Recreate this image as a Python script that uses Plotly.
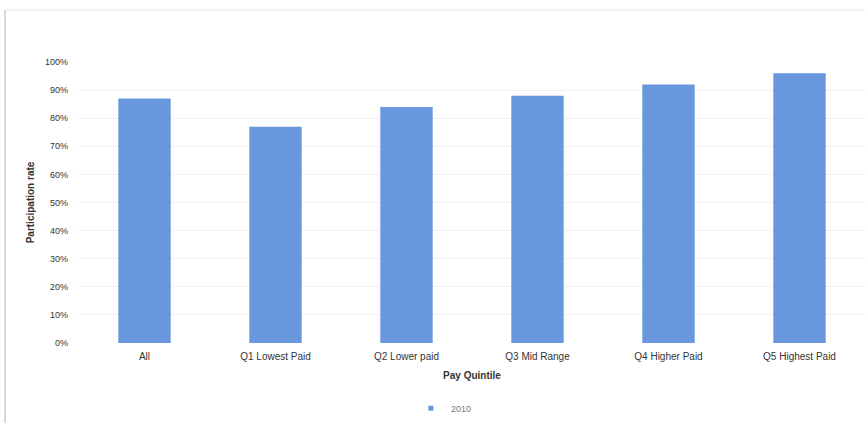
import plotly.graph_objects as go

categories = ["All", "Q1 Lowest Paid", "Q2 Lower paid", "Q3 Mid Range", "Q4 Higher Paid", "Q5 Highest Paid"]
values_2010 = [0.87, 0.77, 0.84, 0.88, 0.92, 0.96]
tick_vals = [0, 0.1, 0.2, 0.3, 0.4, 0.5, 0.6, 0.7, 0.8, 0.9, 1.0]
tick_text = ["0%", "10%", "20%", "30%", "40%", "50%", "60%", "70%", "80%", "90%", "100%"]
series_name = "2010"
bar_color = "#6897DD"

fig = go.Figure()
fig.add_trace(go.Bar(
    x=categories, y=values_2010, name=series_name, showlegend=False,
    marker=dict(color=bar_color, line=dict(width=0)),
))
# legend entry with a small square marker
fig.add_trace(go.Scatter(
    x=[None], y=[None], mode="markers", name=series_name,
    marker=dict(symbol="square", size=5, color=bar_color),
))

font = dict(family="Liberation Sans Narrow, Arial Narrow, Liberation Sans, sans-serif", color="#333333", size=10)

fig.update_layout(
    width=865, height=423,
    margin=dict(l=79, r=0, t=62, b=80, autoexpand=False),
    paper_bgcolor="white", plot_bgcolor="white",
    bargap=0.6,
    font=font,
    showlegend=True,
    legend=dict(orientation="h", x=0.475, y=0.035, xref="container", yref="container",
                xanchor="left", yanchor="middle",
                font=dict(size=9, color="#777777"), itemwidth=30),
    xaxis=dict(
        title=dict(text="<b>Pay Quintile</b>", font=dict(size=10, color="#333333"), standoff=10),
        tickfont=dict(size=10, color="#333333"),
        showline=False, ticks="", showgrid=False, automargin=False,
        ticklabelstandoff=6,
    ),
    yaxis=dict(
        title=dict(text="<b>Participation rate</b>", font=dict(size=10, color="#333333"), standoff=8),
        range=[0, 1], tickvals=tick_vals, ticktext=tick_text,
        tickfont=dict(size=9, color="#333333"),
        showgrid=True, gridcolor="#f1f1f1", gridwidth=1,
        zeroline=False, showline=False, ticks="", ticklabelstandoff=10, automargin=False,
    ),
)

fig.add_shape(type="line", xref="paper", yref="paper", x0=-0.094, x1=-0.094, y0=-0.29, y1=1.185,
              line=dict(color="#d8c8c8", width=1.5))
fig.add_shape(type="line", xref="paper", yref="paper", x0=-0.094, x1=1.0, y0=1.185, y1=1.185,
              line=dict(color="#e9e9e9", width=1))

fig.write_html("out.html", config={"displayModeBar": False},
               post_script="document.body.style.margin='0';document.body.style.overflow='hidden';")
